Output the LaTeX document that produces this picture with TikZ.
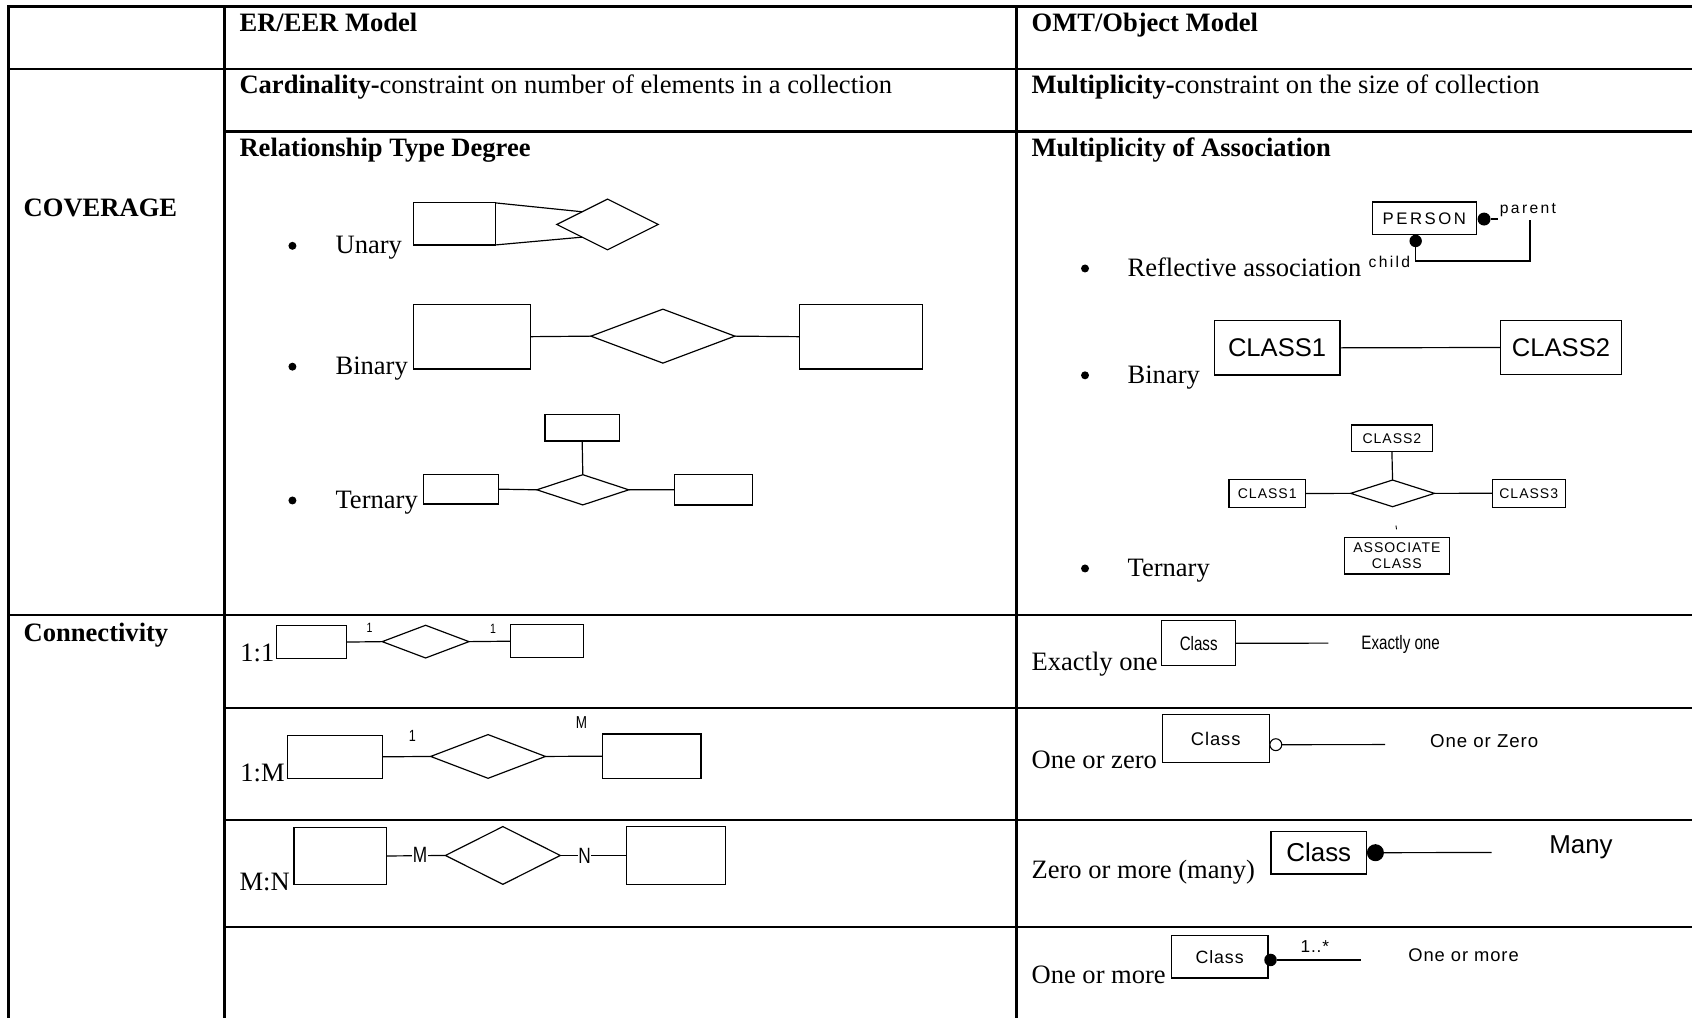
\documentclass[tikz,border=0pt]{standalone}
\usepackage{fontspec}
\setmainfont{Liberation Serif}
\newfontfamily\arialfam{Liberation Sans}
\newfontfamily\narrowfam[FakeStretch=0.78]{Liberation Sans}
\newfontfamily\wideA[LetterSpace=15]{Liberation Sans}
\newfontfamily\wideB[LetterSpace=7]{Liberation Sans}
\newfontfamily\wideC[LetterSpace=5]{Liberation Sans}
\usetikzlibrary{shapes.geometric}
\newcommand\fsz[1]{\fontsize{#1}{#1}\selectfont}
\newcommand\bodyfont{\fsz{24.6}}

\begin{document}
\begin{tikzpicture}[x=1pt,y=-1pt,
  gridline/.style={line width=2.4pt,line cap=rect},
  thinline/.style={line width=1.1pt},
  entbox/.style={draw,line width=1.1pt,rectangle,inner sep=0pt,outer sep=0pt},
  relbox/.style={draw,line width=1.1pt,diamond,inner sep=0pt,outer sep=0pt},
  celltext/.style={inner sep=0pt,outer sep=0pt,anchor=base west,font=\bodyfont},
  bulletmark/.style={circle,fill,inner sep=0pt,outer sep=0pt,minimum size=7.4pt},
  fulldot/.style={circle,fill,inner sep=0pt,outer sep=0pt},
  opendot/.style={circle,draw,line width=1pt,fill=white,inner sep=0pt,outer sep=0pt},
  sanstag/.style={inner sep=0pt,outer sep=0pt,anchor=base west},
  midtag/.style={inner sep=0.6pt,outer sep=0pt,fill=white},
]
\useasboundingbox (0,0) rectangle (1568,943);
\fill[white] (0,0) rectangle (1568,943);

% ---------- table rules ----------
\draw[gridline] (8,943) -- (8,6) -- (1575,6);
\draw[gridline] (208,6) -- (208,943);
\draw[gridline] (942,6) -- (942,943);
\draw[gridline] (8,64) -- (1575,64);
\draw[gridline] (208,122) -- (1575,122);
\draw[gridline] (8,570) -- (1575,570);
\draw[gridline] (208,656) -- (1575,656);
\draw[gridline] (208,760) -- (1575,760);
\draw[gridline] (208,859) -- (1575,859);

% ---------- cell texts ----------
\node[celltext] (h1) at (222,29.4) {\textbf{ER/EER Model}};
\node[celltext] (h2) at (956,29.4) {\textbf{OMT/Object Model}};
\node[celltext] (c1) at (222,86.5) {\textbf{Cardinality-}constraint on number of elements in a collection};
\node[celltext] (c2) at (956,86.5) {\textbf{Multiplicity-}constraint on the size of collection};
\node[celltext] (r1) at (222,145) {\textbf{Relationship Type Degree}};
\node[celltext] (r2) at (956,145) {\textbf{Multiplicity of Association}};
\node[celltext] (cov) at (22,201) {\textbf{COVERAGE}};
\node[celltext] (con) at (22,594.6) {\textbf{Connectivity}};

% bullets, left column
\node[bulletmark] (b1) at (271,227.8) {};
\node[celltext] (t1) at (311,235) {Unary};
\node[bulletmark] (b2) at (271,339.8) {};
\node[celltext] (t2) at (311,347) {Binary};
\node[bulletmark] (b3) at (271,463.8) {};
\node[celltext] (t3) at (311,471) {Ternary};

% bullets, right column
\node[bulletmark] (b4) at (1005.5,248.8) {};
\node[celltext] (t4) at (1045,256) {Reflective association};
\node[bulletmark] (b5) at (1005.5,347.8) {};
\node[celltext] (t5) at (1045,355) {Binary};
\node[bulletmark] (b6) at (1005.5,526.8) {};
\node[celltext] (t6) at (1045,534) {Ternary};

% ---------- ER: unary ----------
\node[entbox,minimum width=76pt,minimum height=39pt] (ur) at (421,207.5) {};
\node[relbox,minimum width=94pt,minimum height=47pt] (ud) at (563,208) {};
\draw[thinline] (ur.north east) -- (ud.north west);
\draw[thinline] (ur.south east) -- (ud.south west);

% ---------- ER: binary ----------
\node[entbox,minimum width=108.5pt,minimum height=60pt] (bl) at (437.25,312) {};
\node[relbox,minimum width=133.4pt,minimum height=50pt] (bd) at (614.3,311.5) {};
\node[entbox,minimum width=114pt,minimum height=60pt] (br) at (797.75,312) {};
\draw[thinline] (bl.east) -- (bd.west);
\draw[thinline] (bd.east) -- (br.west);

% ---------- ER: ternary ----------
\node[entbox,minimum width=69pt,minimum height=24.7pt] (tt) at (539.5,396.3) {};
\node[relbox,minimum width=85.2pt,minimum height=28pt] (td) at (540.1,453.9) {};
\node[entbox,minimum width=69.6pt,minimum height=27.4pt] (tl) at (427,453.3) {};
\node[entbox,minimum width=72.7pt,minimum height=28.4pt] (tr) at (661.25,453.8) {};
\draw[thinline] (tt.south) -- (td.north);
\draw[thinline] (tl.east) -- (td.west);
\draw[thinline] (td.east) -- (tr.west);

% ---------- OMT: reflective association ----------
\node[entbox,minimum width=96.4pt,minimum height=30.3pt,font=\wideA\fsz{15.5}] (person) at (1319.9,202.35) {PERSON};
\node[fulldot,minimum size=12pt] (pdot) at (1375.3,203) {};
\node[fulldot,minimum size=11.5pt] (cdot) at (1311.9,223.3) {};
\coordinate (pstub) at (1388.6,203);
\coordinate (pdrop) at (1417.8,203.9);
\draw[thinline] (pdot) -- (pstub);
\draw[thinline] (pdrop) -- ++(0,38) -| (cdot.south);
\node[sanstag,font=\wideA\fsz{14.5}] (plab) at (1390,197.5) {parent};
\node[sanstag,font=\wideA\fsz{14.5}] (clab) at (1268.3,247.5) {child};

% ---------- OMT: binary ----------
\node[entbox,minimum width=116.5pt,minimum height=50.3pt,font=\arialfam\fsz{23.7}] (k1b) at (1183.45,322.35) {CLASS1};
\node[entbox,minimum width=112.4pt,minimum height=50.4pt,font=\arialfam\fsz{23.7}] (k2b) at (1446.6,322) {CLASS2};
\draw[thinline] (k1b.east) -- (k2b.west);

% ---------- OMT: ternary ----------
\node[entbox,minimum width=75.2pt,minimum height=24.7pt,font=\wideB\fsz{13}] (k2) at (1289.9,406.25) {CLASS2};
\node[relbox,minimum width=77.7pt,minimum height=24.7pt] (kd) at (1290.5,457.2) {};
\node[entbox,minimum width=70.9pt,minimum height=26.2pt,font=\wideB\fsz{13}] (k1) at (1174.35,457.3) {CLASS1};
\node[entbox,minimum width=67.6pt,minimum height=25.9pt,font=\wideB\fsz{13}] (k3) at (1416.7,457.15) {CLASS3};
\node[entbox,minimum width=97.2pt,minimum height=34pt,align=center,font=\wideB\fsz{13}] (ka) at (1294.5,514.9) {ASSOCIATE\\[1.5pt]CLASS};
\draw[thinline] (k2.south) -- (kd.north);
\draw[thinline] (k1.east) -- (kd.west);
\draw[thinline] (kd.east) -- (k3.west);
\coordinate (tick) at (1293.6,487);
\draw[line width=0.8pt] (tick) -- ++(0.6,3.5);

% ---------- ER: 1:1 ----------
\node[celltext] (one1) at (222.8,613.2) {1:1};
\node[entbox,minimum width=64.7pt,minimum height=30.3pt] (al) at (288.75,595) {};
\node[relbox,minimum width=80.4pt,minimum height=30.3pt] (ad) at (394.4,594.6) {};
\node[entbox,minimum width=68.1pt,minimum height=30.6pt] (ar) at (507,594.2) {};
\draw[thinline] (al.east) -- (ad.west);
\draw[thinline] (ad.east) -- (ar.west);
\node[font=\narrowfam\fsz{12.5},inner sep=0pt] (alab) at (342.4,581.5) {1};
\node[font=\narrowfam\fsz{12.5},inner sep=0pt] (arlab) at (456.9,582.6) {1};

% ---------- ER: 1:M ----------
\node[celltext] (onem) at (222.8,724.4) {1:M};
\node[entbox,minimum width=87.4pt,minimum height=39.9pt] (ml) at (310.5,701.35) {};
\node[relbox,minimum width=106.4pt,minimum height=40.5pt] (md) at (452.3,701) {};
\node[entbox,minimum width=91.2pt,minimum height=41.1pt] (mr) at (604.1,700.75) {};
\draw[thinline] (ml.east) -- (md.west);
\draw[thinline] (md.east) -- (mr.west);
\node[font=\narrowfam\fsz{15},inner sep=0pt] (mllab) at (382.1,681.9) {1};
\node[font=\narrowfam\fsz{16},inner sep=0pt] (mrlab) at (538.8,669.2) {M};

% ---------- ER: M:N ----------
\node[celltext] (mn) at (222,825) {M:N};
\node[entbox,minimum width=86pt,minimum height=52.5pt] (nl) at (315.4,793.25) {};
\node[relbox,minimum width=106.4pt,minimum height=53.5pt] (nd) at (466,792.75) {};
\node[entbox,minimum width=91.3pt,minimum height=53.5pt] (nr) at (626.35,792.75) {};
\draw[thinline] (nl.east) -- (nd.west);
\draw[thinline] (nd.east) -- (nr.west);
\node[midtag,font=\narrowfam\fsz{20.5}] (nllab) at (389.2,792.6) {M};
\node[midtag,font=\narrowfam\fsz{20.5}] (nrlab) at (541.7,793) {N};

% ---------- OMT: exactly one ----------
\node[celltext] (q1) at (956,621) {Exactly one};
\node[entbox,minimum width=68.5pt,minimum height=41.7pt,font=\narrowfam\fsz{18}] (e1) at (1110.85,596.05) {Class};
\coordinate (e1end) at (1231,596);
\draw[thinline] (e1.east) -- (e1end);
\node[sanstag,font=\narrowfam\fsz{18}] (e1lab) at (1261.7,601.5) {Exactly one};

% ---------- OMT: one or zero ----------
\node[celltext] (q2) at (956,712) {One or zero};
\node[entbox,minimum width=99.2pt,minimum height=44.5pt,font=\wideC\fsz{17}] (o1) at (1126.6,684.55) {Class};
\node[opendot,minimum size=11pt] (oring) at (1182.3,690.1) {};
\coordinate (o1end) at (1283.5,690);
\draw[thinline] (oring.east) -- (o1end);
\node[sanstag,font=\wideC\fsz{17.3}] (o1lab) at (1325.3,692.8) {One or Zero};

% ---------- OMT: zero or more ----------
\node[celltext] (q3) at (956,814) {Zero or more (many)};
\node[entbox,minimum width=88.7pt,minimum height=39.6pt,font=\arialfam\fsz{24}] (z1) at (1222.15,790.2) {Class};
\node[fulldot,minimum size=15.8pt] (zdot) at (1274.6,790.2) {};
\coordinate (z1end) at (1382.2,790);
\draw[thinline] (zdot) -- (z1end);
\node[sanstag,font=\arialfam\fsz{24}] (z1lab) at (1435.8,790.5) {Many};

% ---------- OMT: one or more ----------
\node[celltext] (q4) at (956,911.3) {One or more};
\node[entbox,minimum width=89.5pt,minimum height=39.2pt,font=\wideC\fsz{16.5}] (p1) at (1130.25,886.7) {Class};
\node[fulldot,minimum size=11.6pt] (pmdot) at (1177.4,889.6) {};
\coordinate (p1end) at (1260.9,889.6);
\draw[thinline] (pmdot) -- (p1end);
\node[sanstag,font=\wideC\fsz{16}] (p1mult) at (1205.3,882.8) {1..*};
\node[sanstag,font=\wideC\fsz{17}] (p1lab) at (1305.2,891.2) {One or more};

\end{tikzpicture}
\end{document}
